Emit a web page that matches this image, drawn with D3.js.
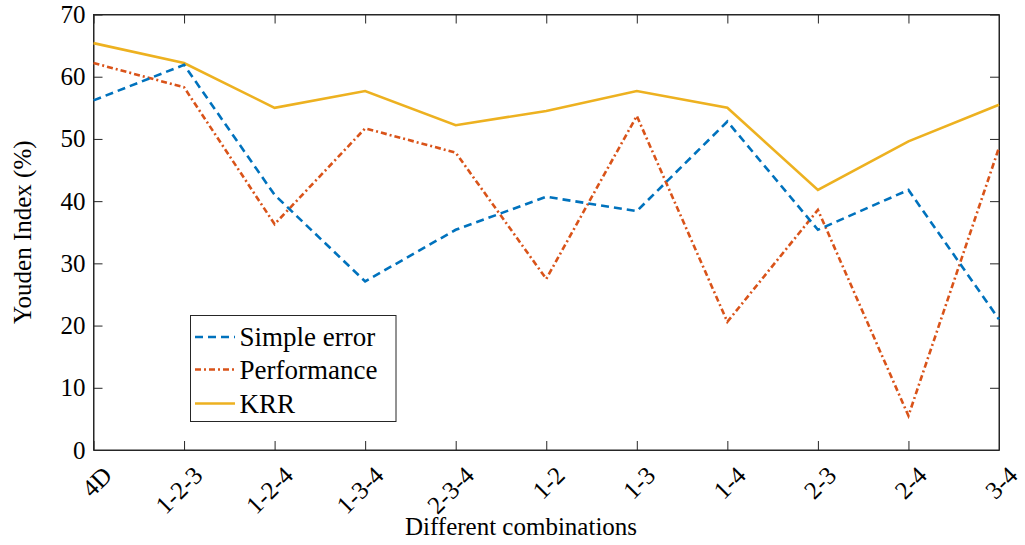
<!DOCTYPE html>
<html>
<head>
<meta charset="utf-8">
<script src="https://cdn.jsdelivr.net/npm/d3@7"></script>
<style>
  body { margin: 0; background: #fff; }
  text { font-family: "Liberation Serif", "Times New Roman", serif; fill: #000; }
</style>
</head>
<body>
<script>
// chart data
var combos = ["4D", "1-2-3", "1-2-4", "1-3-4", "2-3-4", "1-2", "1-3", "1-4", "2-3", "2-4", "3-4"];
var simpleError = [56.2, 61.9, 41.0, 27.1, 35.4, 40.7, 38.4, 52.8, 35.4, 41.8, 21.0];
var performance = [62.2, 58.3, 36.3, 51.7, 47.8, 27.5, 53.7, 20.6, 38.6, 5.5, 48.6];
var krr = [65.4, 62.2, 55.0, 57.7, 52.2, 54.5, 57.7, 55.0, 41.8, 49.6, 55.5];
var yTicks = [0, 10, 20, 30, 40, 50, 60, 70];
var seriesNames = ["Simple error", "Performance", "KRR"];

var W = 1025, H = 545;
var margin = { top: 14.5, right: 26, bottom: 95, left: 93.5 },
    width = W - margin.left - margin.right,
    height = H - margin.top - margin.bottom;

var svg = d3.select("body").append("svg")
    .attr("width", W)
    .attr("height", H);

var g = svg.append("g")
    .attr("transform", "translate(" + margin.left + "," + margin.top + ")");

var x = d3.scalePoint().domain(combos).range([0, width]);
var y = d3.scaleLinear().domain([0, 70]).range([height, 0]);

var axisColor = "#262626";
var tickLen = 9;

// frame
g.append("rect")
    .attr("width", width)
    .attr("height", height)
    .attr("fill", "none")
    .attr("stroke", axisColor)
    .attr("stroke-width", 1);

// ticks inside on all four sides
var xAxisB = d3.axisBottom(x).tickSizeInner(-tickLen).tickSizeOuter(0).tickFormat("");
var xAxisT = d3.axisTop(x).tickSizeInner(-tickLen).tickSizeOuter(0).tickFormat("");
var yAxisL = d3.axisLeft(y).tickValues(yTicks).tickSizeInner(-tickLen).tickSizeOuter(0).tickPadding(8);
var yAxisR = d3.axisRight(y).tickValues(yTicks).tickSizeInner(-tickLen).tickSizeOuter(0).tickFormat("");

function styleAxis(sel) {
    sel.select(".domain").attr("stroke", axisColor);
    sel.selectAll(".tick line").attr("stroke", axisColor);
    sel.selectAll("text").attr("font-size", 25).style("font-family", "Liberation Serif, serif").attr("fill", "#000");
}

g.append("g").attr("transform", "translate(0," + height + ")").call(xAxisB).call(styleAxis);
g.append("g").call(xAxisT).call(styleAxis);
g.append("g").call(yAxisL).call(styleAxis);
g.append("g").attr("transform", "translate(" + width + ",0)").call(yAxisR).call(styleAxis);

// rotated category labels
g.append("g").selectAll("text")
    .data(combos)
    .enter().append("text")
    .attr("transform", function (d) { return "translate(" + (x(d) + 20) + "," + (height + 27) + ") rotate(-45)"; })
    .attr("text-anchor", "end")
    .attr("font-size", 25)
    .text(function (d) { return d; });

// axis titles
svg.append("text")
    .attr("x", 521)
    .attr("y", 535)
    .attr("text-anchor", "middle")
    .attr("font-size", 25)
    .text("Different combinations");

svg.append("text")
    .attr("transform", "translate(31," + (margin.top + height / 2) + ") rotate(-90)")
    .attr("text-anchor", "middle")
    .attr("font-size", 25)
    .text("Youden Index (%)");

// lines
var series = [
    { name: seriesNames[0], values: simpleError, color: "#0072BD", dash: "8,5" },
    { name: seriesNames[1], values: performance, color: "#D95319", dash: "6,3,2,3" },
    { name: seriesNames[2], values: krr, color: "#EDB120", dash: null }
];

var line = d3.line()
    .x(function (d, i) { return x(combos[i]); })
    .y(function (d) { return y(d); });

// draw KRR first so the dashed ones sit on top like the reference
[2, 1, 0].forEach(function (k) {
    var s = series[k];
    g.append("path")
        .attr("d", line(s.values))
        .attr("fill", "none")
        .attr("stroke", s.color)
        .attr("stroke-width", 2.6)
        .attr("stroke-dasharray", s.dash);
});

// legend
var leg = svg.append("g").attr("transform", "translate(190.5,315.5)");
leg.append("rect")
    .attr("width", 205.5)
    .attr("height", 106)
    .attr("fill", "#fff")
    .attr("stroke", axisColor)
    .attr("stroke-width", 1);

var rowY = [21.5, 54, 88];
series.forEach(function (s, i) {
    leg.append("line")
        .attr("x1", 4.5).attr("x2", 44.5)
        .attr("y1", rowY[i]).attr("y2", rowY[i])
        .attr("stroke", s.color)
        .attr("stroke-width", 2.6)
        .attr("stroke-dasharray", s.dash);
    leg.append("text")
        .attr("x", 49)
        .attr("y", rowY[i] + 9)
        .attr("font-size", 27)
        .text(s.name);
});
</script>
</body>
</html>
